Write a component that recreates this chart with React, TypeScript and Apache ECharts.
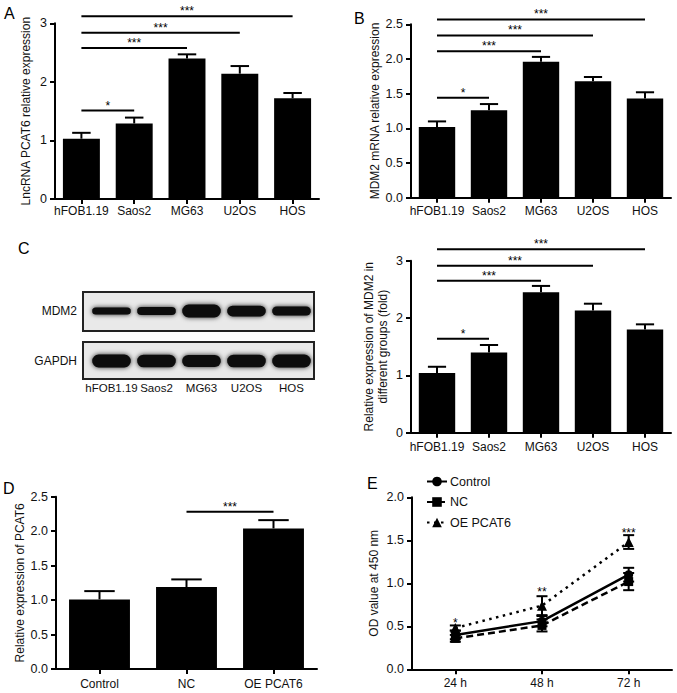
import React, { useEffect, useRef } from "react";
import * as echarts from "echarts";

const FONT = "'Liberation Sans', Arial, Helvetica, sans-serif";

// Panel A / B / C categories
const cellLines = ["hFOB1.19", "Saos2", "MG63", "U2OS", "HOS"];
// A: LncRNA PCAT6 relative expression
const pcat6Mean = [1.03, 1.29, 2.4, 2.14, 1.72];
const pcat6Err = [0.1, 0.1, 0.07, 0.13, 0.09];
const sigA = [
  [0, 1, 1.51],
  [0, 2, 2.58],
  [0, 3, 2.84],
  [0, 4, 3.12],
];
const sigAText = ["*", "***", "***", "***"];
// B: MDM2 mRNA relative expression
const mdm2MrnaMean = [1.02, 1.26, 1.96, 1.68, 1.43];
const mdm2MrnaErr = [0.08, 0.09, 0.07, 0.06, 0.09];
const sigB = [
  [0, 1, 1.44],
  [0, 2, 2.11],
  [0, 3, 2.34],
  [0, 4, 2.57],
];
const sigBText = ["*", "***", "***", "***"];
// C: western blot band intensities (relative thickness)
const blotRows = ["MDM2", "GAPDH"];
const mdm2Band = [0.35, 0.45, 1.0, 0.75, 0.55];
const gapdhBand = [1.0, 0.95, 0.9, 0.95, 1.0];
// C right: relative MDM2 protein
const mdm2ProtMean = [1.04, 1.4, 2.45, 2.13, 1.8];
const mdm2ProtErr = [0.11, 0.13, 0.11, 0.12, 0.09];
const sigC = [
  [0, 1, 1.64],
  [0, 2, 2.65],
  [0, 3, 2.91],
  [0, 4, 3.2],
];
const sigCText = ["*", "***", "***", "***"];
// D
const groupsD = ["Control", "NC", "OE PCAT6"];
const pcat6OeMean = [1.01, 1.19, 2.04];
const pcat6OeErr = [0.12, 0.11, 0.12];
const sigD = [[1, 2, 2.28]];
const sigDText = ["***"];
// E
const timeCats = ["24 h", "48 h", "72 h"];
const odControl = [0.4, 0.56, 1.1];
const odControlErr = [0.05, 0.06, 0.08];
const odNC = [0.36, 0.51, 1.02];
const odNCErr = [0.04, 0.07, 0.1];
const odOE = [0.48, 0.74, 1.48];
const odOEErr = [0.03, 0.11, 0.08];
const sigEY = [0.54, 0.895, 1.59];
const sigEText = ["*", "**", "***"];

const axisLine = { show: true, lineStyle: { color: "#000", width: 2 } };
const axisTick = { show: true, length: 5, lineStyle: { color: "#000", width: 2 } };

function catAxis(gridIndex: number, data: string[], margin: number) {
  return {
    type: "category",
    gridIndex,
    data,
    axisLine,
    axisTick: { ...axisTick, alignWithLabel: true },
    axisLabel: { color: "#111", fontSize: 12, fontFamily: FONT, margin, interval: 0 },
    splitLine: { show: false },
  };
}

function valAxis(gridIndex: number, max: number, interval: number, name: string, nameGap: number, fixed: number) {
  return {
    type: "value",
    gridIndex,
    min: 0,
    max,
    interval,
    name,
    nameLocation: "middle",
    nameGap,
    nameTextStyle: { color: "#111", fontSize: 12, fontFamily: FONT, lineHeight: 14 },
    axisLine,
    axisTick,
    axisLabel: {
      color: "#111",
      fontSize: 12.5,
      fontFamily: FONT,
      margin: 8,
      formatter: (v: number) => v.toFixed(fixed),
    },
    splitLine: { show: false },
  };
}

function barSeries(idx: number, values: number[]) {
  return {
    type: "bar",
    xAxisIndex: idx,
    yAxisIndex: idx,
    data: values,
    barWidth: "70%",
    itemStyle: { color: "#000" },
    z: 2,
  };
}

function errUpSeries(idx: number, means: number[], errs: number[]) {
  return {
    type: "custom",
    xAxisIndex: idx,
    yAxisIndex: idx,
    z: 3,
    encode: { x: 0, y: 1 },
    data: means.map((m, i) => [i, m, errs[i]]),
    renderItem: (params: any, api: any) => {
      const x = api.value(0);
      const m = api.value(1);
      const e = api.value(2);
      const base = api.coord([x, m]);
      const top = api.coord([x, m + e]);
      const cap = api.size([1, 0])[0] * 0.7 * 0.5;
      const st = { stroke: "#000", lineWidth: 2 };
      return {
        type: "group",
        children: [
          { type: "line", shape: { x1: base[0], y1: base[1], x2: top[0], y2: top[1] }, style: st },
          { type: "line", shape: { x1: top[0] - cap / 2, y1: top[1], x2: top[0] + cap / 2, y2: top[1] }, style: st },
        ],
      };
    },
  };
}

function sigSeries(idx: number, rows: number[][], texts: string[]) {
  return {
    type: "custom",
    xAxisIndex: idx,
    yAxisIndex: idx,
    z: 4,
    clip: false,
    encode: { x: [0, 1], y: 2 },
    data: rows,
    renderItem: (params: any, api: any) => {
      const p1 = api.coord([api.value(0), api.value(2)]);
      const p2 = api.coord([api.value(1), api.value(2)]);
      return {
        type: "group",
        children: [
          { type: "line", shape: { x1: p1[0], y1: p1[1], x2: p2[0], y2: p2[1] }, style: { stroke: "#000", lineWidth: 2 } },
          {
            type: "text",
            x: (p1[0] + p2[0]) / 2,
            y: p1[1] + 1,
            style: {
              text: texts[params.dataIndex],
              align: "center",
              verticalAlign: "bottom",
              fontSize: 12,
              fontFamily: FONT,
              fill: "#000",
            },
          },
        ],
      };
    },
  };
}

function errBothSeries(idx: number, means: number[], errs: number[]) {
  return {
    type: "custom",
    xAxisIndex: idx,
    yAxisIndex: idx,
    z: 5,
    encode: { x: 0, y: 1 },
    data: means.map((m, i) => [i, m, errs[i]]),
    renderItem: (params: any, api: any) => {
      const x = api.value(0);
      const m = api.value(1);
      const e = api.value(2);
      const lo = api.coord([x, m - e]);
      const hi = api.coord([x, m + e]);
      const cap = 11;
      const st = { stroke: "#000", lineWidth: 2 };
      return {
        type: "group",
        children: [
          { type: "line", shape: { x1: lo[0], y1: lo[1], x2: hi[0], y2: hi[1] }, style: st },
          { type: "line", shape: { x1: hi[0] - cap / 2, y1: hi[1], x2: hi[0] + cap / 2, y2: hi[1] }, style: st },
          { type: "line", shape: { x1: lo[0] - cap / 2, y1: lo[1], x2: lo[0] + cap / 2, y2: lo[1] }, style: st },
        ],
      };
    },
  };
}

export default function App() {
  const ref = useRef<HTMLDivElement>(null);
  useEffect(() => {
    if (!ref.current) return;
    const chart = echarts.init(ref.current, null, { renderer: "svg" });

    const blotData: number[][] = [];
    mdm2Band.forEach((v, i) => blotData.push([i, 0, v]));
    gapdhBand.forEach((v, i) => blotData.push([i, 1, v]));

    const option: any = {
      animation: false,
      backgroundColor: "#fff",
      textStyle: { fontFamily: FONT },
      grid: [
        { left: 55, top: 23.3, width: 264, height: 175.7, outerBoundsMode: "none" },
        { left: 411, top: 24.3, width: 260, height: 173.4, outerBoundsMode: "none" },
        { left: 89, top: 286, width: 225, height: 100, outerBoundsMode: "none" },
        { left: 411, top: 260.7, width: 260, height: 172, outerBoundsMode: "none" },
        { left: 56, top: 496.7, width: 261, height: 172.3, outerBoundsMode: "none" },
        { left: 412, top: 497.3, width: 260, height: 172, outerBoundsMode: "none" },
      ],
      xAxis: [
        catAxis(0, cellLines, 6),
        catAxis(1, cellLines, 7),
        {
          type: "category",
          gridIndex: 2,
          data: cellLines,
          axisLine: { show: false },
          axisTick: { show: false },
          axisLabel: { color: "#111", fontSize: 11.5, fontFamily: FONT, margin: -4, interval: 0 },
        },
        catAxis(3, cellLines, 8),
        catAxis(4, groupsD, 9),
        catAxis(5, timeCats, 8),
      ],
      yAxis: [
        valAxis(0, 3, 1, "LncRNA PCAT6 relative expression", 22, 0),
        valAxis(1, 2.5, 0.5, "MDM2 mRNA relative expression", 29, 1),
        {
          type: "category",
          gridIndex: 2,
          data: blotRows,
          inverse: true,
          axisLine: { show: false },
          axisTick: { show: false },
          axisLabel: { color: "#111", fontSize: 12, fontFamily: FONT, margin: 12 },
        },
        valAxis(3, 3, 1, "Relative expression of MDM2 in\ndifferent groups (fold)", 21, 0),
        valAxis(4, 2.5, 0.5, "Relative expression of PCAT6", 29, 1),
        valAxis(5, 2.0, 0.5, "OD value at 450 nm", 31, 1),
      ],
      legend: {
        left: 421,
        top: 470,
        orient: "vertical",
        itemGap: 7.5,
        itemWidth: 20,
        itemHeight: 12,
        data: ["Control", "NC", "OE PCAT6"],
        textStyle: { color: "#111", fontSize: 12.5, fontFamily: FONT, padding: [0, 0, 0, -2] },
      },
      graphic: [
        { type: "text", left: 4, top: 5, style: { text: "A", fontSize: 16, fontFamily: FONT, fill: "#000" } },
        { type: "text", left: 354, top: 10, style: { text: "B", fontSize: 16, fontFamily: FONT, fill: "#000" } },
        { type: "text", left: 18, top: 240, style: { text: "C", fontSize: 16, fontFamily: FONT, fill: "#000" } },
        { type: "text", left: 3, top: 480, style: { text: "D", fontSize: 16, fontFamily: FONT, fill: "#000" } },
        { type: "text", left: 367, top: 475, style: { text: "E", fontSize: 16, fontFamily: FONT, fill: "#000" } },
        {
          type: "rect",
          shape: { x: 83, y: 292, width: 231, height: 39 },
          style: { fill: "#e9e9e9", stroke: "#222", lineWidth: 2 },
        },
        {
          type: "rect",
          shape: { x: 83, y: 342, width: 231, height: 37 },
          style: { fill: "#e9e9e9", stroke: "#222", lineWidth: 2 },
        },
      ],
      series: [
        barSeries(0, pcat6Mean),
        errUpSeries(0, pcat6Mean, pcat6Err),
        sigSeries(0, sigA, sigAText),
        barSeries(1, mdm2MrnaMean),
        errUpSeries(1, mdm2MrnaMean, mdm2MrnaErr),
        sigSeries(1, sigB, sigBText),
        {
          type: "custom",
          xAxisIndex: 2,
          yAxisIndex: 2,
          z: 3,
          encode: { x: 0, y: 1 },
          data: blotData,
          renderItem: (params: any, api: any) => {
            const c = api.coord([api.value(0), api.value(1)]);
            const laneW = api.size([1, 0])[0];
            const w = laneW * 0.86;
            const h = 4 + 9 * api.value(2);
            return {
              type: "rect",
              shape: { x: c[0] - w / 2, y: c[1] - h / 2, width: w, height: h, r: h / 2 },
              style: { fill: "#0b0b0b", shadowBlur: 5, shadowColor: "rgba(0,0,0,0.85)" },
            };
          },
        },
        barSeries(3, mdm2ProtMean),
        errUpSeries(3, mdm2ProtMean, mdm2ProtErr),
        sigSeries(3, sigC, sigCText),
        barSeries(4, pcat6OeMean),
        errUpSeries(4, pcat6OeMean, pcat6OeErr),
        sigSeries(4, sigD, sigDText),
        {
          name: "Control",
          type: "line",
          xAxisIndex: 5,
          yAxisIndex: 5,
          data: odControl,
          symbol: "circle",
          symbolSize: 9,
          lineStyle: { color: "#000", width: 2.5, type: "solid" },
          itemStyle: { color: "#000" },
          z: 4,
        },
        {
          name: "NC",
          type: "line",
          xAxisIndex: 5,
          yAxisIndex: 5,
          data: odNC,
          symbol: "rect",
          symbolSize: 9,
          lineStyle: { color: "#000", width: 2.5, type: [7, 4] },
          itemStyle: { color: "#000" },
          z: 4,
        },
        {
          name: "OE PCAT6",
          type: "line",
          xAxisIndex: 5,
          yAxisIndex: 5,
          data: odOE,
          symbol: "triangle",
          symbolSize: 10,
          lineStyle: { color: "#000", width: 2.5, type: [2.5, 4.5] },
          itemStyle: { color: "#000" },
          z: 4,
        },
        errBothSeries(5, odControl, odControlErr),
        errBothSeries(5, odNC, odNCErr),
        errBothSeries(5, odOE, odOEErr),
        {
          type: "custom",
          xAxisIndex: 5,
          yAxisIndex: 5,
          z: 6,
          clip: false,
          encode: { x: 0, y: 1 },
          data: sigEY.map((v, i) => [i, v]),
          renderItem: (params: any, api: any) => {
            const c = api.coord([api.value(0), api.value(1)]);
            return {
              type: "text",
              x: c[0],
              y: c[1],
              style: {
                text: sigEText[params.dataIndex],
                align: "center",
                verticalAlign: "middle",
                fontSize: 12,
                fontFamily: FONT,
                fill: "#000",
              },
            };
          },
        },
      ],
    };
    chart.setOption(option);
    return () => chart.dispose();
  }, []);

  return (
    <div
      ref={ref}
      style={{ position: "fixed", left: 0, top: 0, width: 677, height: 693, background: "#fff" }}
    />
  );
}
